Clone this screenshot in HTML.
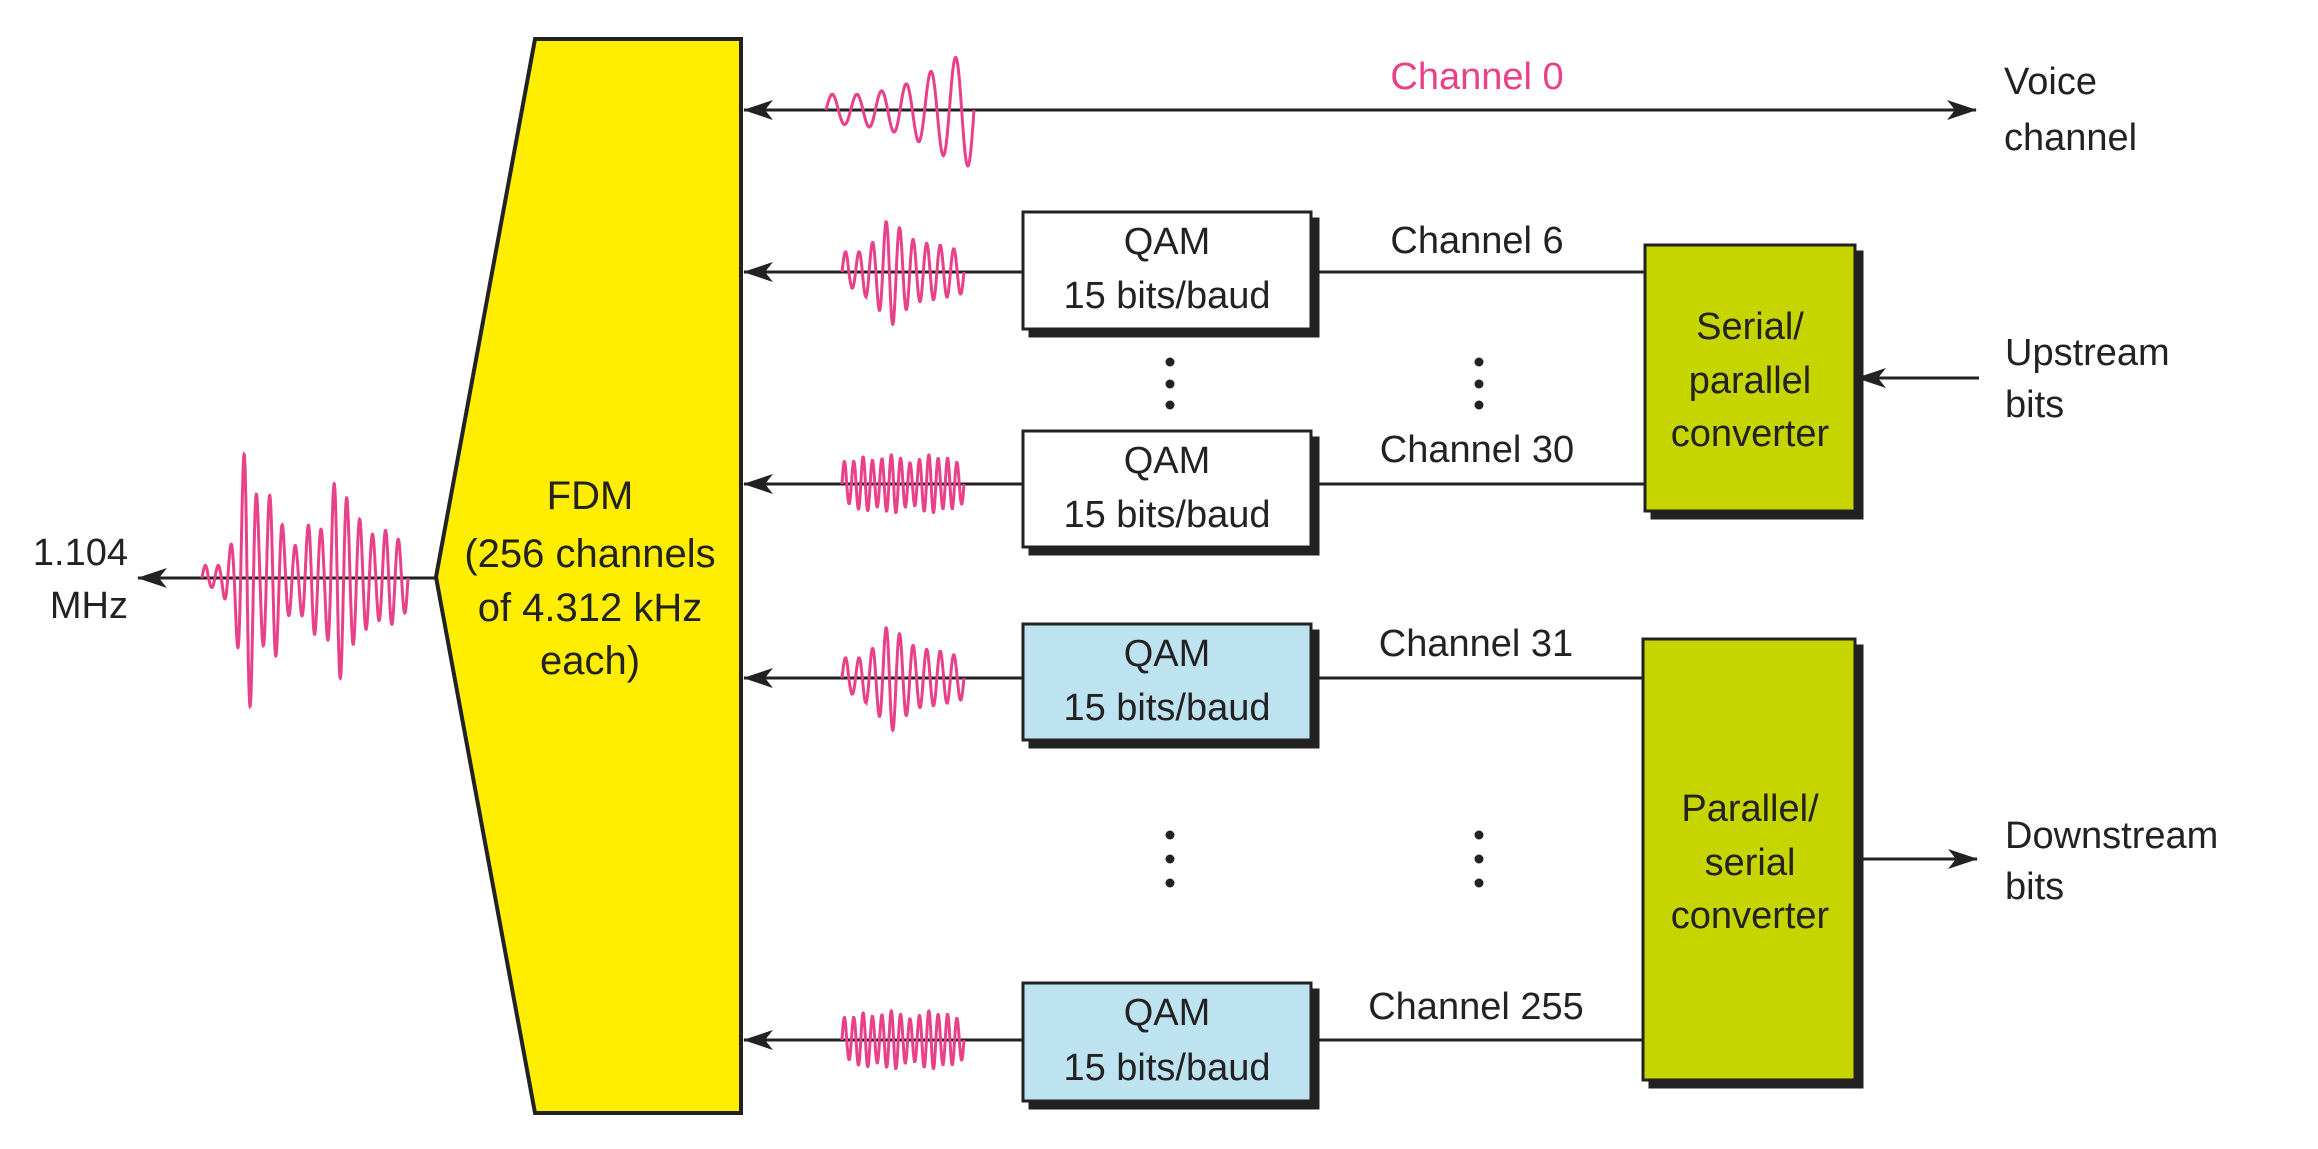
<!DOCTYPE html>
<html><head><meta charset="utf-8"><style>
html,body{margin:0;padding:0;background:#fff}
svg{display:block}
text{font-family:"Liberation Sans",sans-serif;fill:#222}
</style></head><body>
<svg id="s" width="2318" height="1149" viewBox="0 0 2318 1149" xmlns="http://www.w3.org/2000/svg">
<defs>
<marker id="ah" viewBox="0 0 30 20" refX="29" refY="10" markerWidth="30" markerHeight="20" markerUnits="userSpaceOnUse" orient="auto-start-reverse">
<path d="M0,0 L30,10 L0,20 L8,10 Z" fill="#222"/>
</marker>
</defs>
<rect width="2318" height="1149" fill="#fff"/>
<!-- FDM -->
<polygon points="535,39 741,39 741,1113 535,1113 436,577" fill="#ffee00" stroke="#222" stroke-width="4"/>
<g font-size="40" text-anchor="middle">
<text x="590" y="509">FDM</text>
<text x="590" y="567">(256 channels</text>
<text x="590" y="621">of 4.312 kHz</text>
<text x="590" y="674">each)</text>
</g>
<!-- output arrow -->
<line x1="436" y1="578" x2="138" y2="578" stroke="#222" stroke-width="3" marker-end="url(#ah)"/>
<g font-size="38" text-anchor="end">
<text x="128" y="565">1.104</text>
<text x="128" y="618">MHz</text>
</g>
<!-- channel 0 -->
<line x1="744" y1="110" x2="1976" y2="110" stroke="#222" stroke-width="3" marker-start="url(#ah)" marker-end="url(#ah)"/>
<text x="1477" y="89" font-size="38" text-anchor="middle" style="fill:#e8418a">Channel 0</text>
<g font-size="38"><text x="2004" y="94">Voice</text><text x="2004" y="150">channel</text></g>
<!-- lines -->
<g stroke="#222" stroke-width="3">
<line x1="1023" y1="272" x2="744" y2="272" marker-end="url(#ah)"/>
<line x1="1023" y1="484" x2="744" y2="484" marker-end="url(#ah)"/>
<line x1="1023" y1="678" x2="744" y2="678" marker-end="url(#ah)"/>
<line x1="1023" y1="1040" x2="744" y2="1040" marker-end="url(#ah)"/>
<line x1="1311" y1="272" x2="1645" y2="272"/>
<line x1="1311" y1="484" x2="1645" y2="484"/>
<line x1="1311" y1="678" x2="1643" y2="678"/>
<line x1="1311" y1="1040" x2="1643" y2="1040"/>
<line x1="1979" y1="378" x2="1857" y2="378" marker-end="url(#ah)"/>
<line x1="1855" y1="859" x2="1977" y2="859" marker-end="url(#ah)"/>
</g>
<!-- QAM boxes -->
<g stroke="#222" stroke-width="3">
<rect x="1030" y="219" width="288" height="117" fill="#222"/>
<rect x="1023" y="212" width="288" height="117" fill="#fff"/>
<rect x="1030" y="438" width="288" height="116" fill="#222"/>
<rect x="1023" y="431" width="288" height="116" fill="#fff"/>
<rect x="1030" y="631" width="288" height="116" fill="#222"/>
<rect x="1023" y="624" width="288" height="116" fill="#bde3f0"/>
<rect x="1030" y="990" width="288" height="118" fill="#222"/>
<rect x="1023" y="983" width="288" height="118" fill="#bde3f0"/>
</g>
<g font-size="38" text-anchor="middle">
<text x="1167" y="254">QAM</text><text x="1167" y="308">15 bits/baud</text>
<text x="1167" y="473">QAM</text><text x="1167" y="527">15 bits/baud</text>
<text x="1167" y="666">QAM</text><text x="1167" y="720">15 bits/baud</text>
<text x="1167" y="1025">QAM</text><text x="1167" y="1080">15 bits/baud</text>
</g>
<g font-size="38" text-anchor="middle">
<text x="1477" y="253">Channel 6</text>
<text x="1477" y="462">Channel 30</text>
<text x="1476" y="656">Channel 31</text>
<text x="1476" y="1019">Channel 255</text>
</g>
<!-- dots -->
<g fill="#222">
<circle cx="1170" cy="362" r="4.5"/><circle cx="1170" cy="384" r="4.5"/><circle cx="1170" cy="405" r="4.5"/>
<circle cx="1479" cy="362" r="4.5"/><circle cx="1479" cy="384" r="4.5"/><circle cx="1479" cy="405" r="4.5"/>
<circle cx="1170" cy="835" r="4.5"/><circle cx="1170" cy="859" r="4.5"/><circle cx="1170" cy="883" r="4.5"/>
<circle cx="1479" cy="835" r="4.5"/><circle cx="1479" cy="859" r="4.5"/><circle cx="1479" cy="883" r="4.5"/>
</g>
<!-- green boxes -->
<g stroke="#222" stroke-width="3">
<rect x="1652" y="252" width="210" height="266" fill="#222"/>
<rect x="1645" y="245" width="210" height="266" fill="#c6d400"/>
<rect x="1650" y="646" width="212" height="441" fill="#222"/>
<rect x="1643" y="639" width="212" height="441" fill="#c6d400"/>
</g>
<g font-size="38" text-anchor="middle">
<text x="1750" y="339">Serial/</text><text x="1750" y="393">parallel</text><text x="1750" y="446">converter</text>
<text x="1750" y="821">Parallel/</text><text x="1750" y="875">serial</text><text x="1750" y="928">converter</text>
</g>
<g font-size="38">
<text x="2005" y="365">Upstream</text><text x="2005" y="417">bits</text>
<text x="2005" y="848">Downstream</text><text x="2005" y="899">bits</text>
</g>
<g id="waves" fill="none" stroke="#e8418a" stroke-width="3"></g>
</svg>
<script>
function wave(x0,x1,cy,n,amps){
  var N=1600,d="";
  for(var i=0;i<=N;i++){
    var t=i/N,ph=2*Math.PI*n*t;
    var c=t*n-0.5, i0=Math.max(0,Math.min(amps.length-1,Math.floor(c))), i1=Math.min(amps.length-1,i0+1);
    var f=Math.max(0,Math.min(1,c-Math.floor(c)));
    var a=amps[i0]*(1-f)+amps[i1]*f;
    var x=x0+(x1-x0)*t;
    var y=cy-a*Math.sin(ph);
    d+=(i?"L":"M")+x.toFixed(1)+","+y.toFixed(1);
  }
  var p=document.createElementNS("http://www.w3.org/2000/svg","path");
  p.setAttribute("d",d);document.getElementById("waves").appendChild(p);
}
wave(826,974,110,6,[14,16,20,28,42,56]);
wave(842,964,272,9,[14,22,32,56,40,30,28,26,22]);
wave(842,964,484,13,[18,24,28,22,26,30,24,20,26,30,24,26,20]);
wave(842,964,678,9,[14,22,32,56,40,30,28,26,22]);
wave(842,964,1040,13,[18,24,28,22,26,30,24,20,26,30,24,26,20]);
wave(202,408,578,16,[8,14,40,150,60,90,40,30,60,45,110,70,55,40,50,35]);
</script>
</body></html>
